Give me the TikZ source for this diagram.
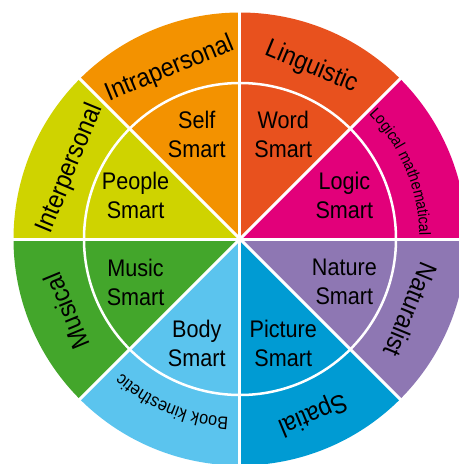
\documentclass[tikz,border=0pt]{standalone}
\usepackage{fontspec}
\setmainfont[FakeStretch=0.9]{Liberation Sans}
\usetikzlibrary{decorations.text}
\definecolor{cIntra}{HTML}{F39200}
\definecolor{cLing}{HTML}{E8511E}
\definecolor{cLogic}{HTML}{E2007A}
\definecolor{cNat}{HTML}{8E77B3}
\definecolor{cSpat}{HTML}{009BD3}
\definecolor{cBody}{HTML}{5BC4EE}
\definecolor{cMus}{HTML}{43A62B}
\definecolor{cInter}{HTML}{CFD300}
\begin{document}
\begin{tikzpicture}[x=1pt,y=1pt,
  inner/.style={align=center,font=\fontsize{24}{29}\selectfont,inner sep=0pt},
  outer/.style={font=\fontsize{26}{30}\selectfont,inner sep=0pt},
  curved/.style={decorate,decoration={text along path,text align=center,text={#1}}},
  sep/.style={white,line width=3pt}]
\useasboundingbox (-240,-225) rectangle (219,239);
\clip (-240,-225) rectangle (219,239);
\def\R{226.5}
\def\r{156}
% wedges
\foreach \a/\c in {0/cLogic,45/cLing,90/cIntra,135/cInter,180/cMus,225/cBody,270/cSpat,315/cNat}{
  \fill[\c] (0,0) -- (\a:\R) arc[start angle=\a,end angle=\a+45,radius=\R] -- cycle;
}
% separators
\draw[white,line width=2.5pt] (0,0) circle[radius=\r];
\foreach \a in {0,45,...,315}{
  \draw[sep] (0,0) -- (\a:\R+2);
}
% inner labels
\node[inner] (self) at (112.5:113) {Self\\Smart};
\node[inner] (word) at (67.5:113) {Word\\Smart};
\node[inner] (logic) at (22.5:113) {Logic\\Smart};
\node[inner] (nature) at (-22.5:113) {Nature\\Smart};
\node[inner] (picture) at (-67.5:113) {Picture\\Smart};
\node[inner] (body) at (-112.5:113) {Body\\Smart};
\node[inner] (music) at (-157.5:113) {Music\\Smart};
\node[inner] (people) at (157.5:113) {People\\Smart};
% outer labels
\node[outer,rotate=22.5] (intra) at (112.5:184) {Intrapersonal};
\node[outer,rotate=-22.5] (ling) at (67.5:186) {Linguistic};
\node[outer,rotate=-112.5] (nat) at (-22.5:185) {Naturalist};
\node[outer,rotate=202.5] (spat) at (-67.5:189) {Spatial};
\node[outer,rotate=112.5] (mus) at (-157.5:188) {Musical};
\node[outer,rotate=67.5] (inter) at (157.5:184) {Interpersonal};
% curved outer labels
\path[curved={|\fontsize{16}{18}\selectfont|Logical mathematical}]
  (45:179.5) arc[start angle=45,end angle=0,radius=179.5];
\path[curved={|\fontsize{18}{20}\selectfont|Book kinesthetic}]
  (-90:179) arc[start angle=-90,end angle=-135,radius=179];
\end{tikzpicture}
\end{document}
